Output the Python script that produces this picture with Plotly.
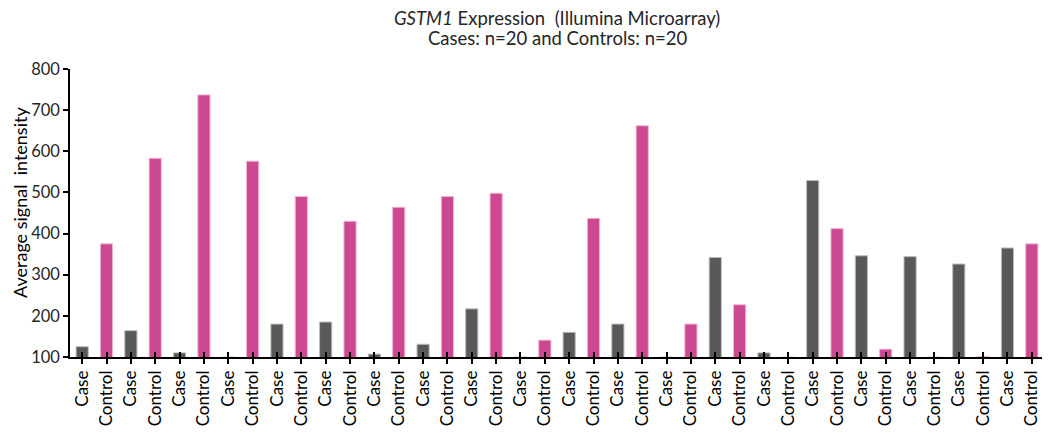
import plotly.graph_objects as go

categories = ["Case", "Control"] * 20
case_values = [125, 164, 110, 100, 180, 185, 107, 131, 217, 100,
               160, 180, 100, 342, 110, 529, 346, 344, 326, 365]
control_values = [375, 583, 737, 576, 490, 430, 464, 490, 498, 141,
                  437, 662, 180, 227, 100, 412, 119, 100, 101, 375]
y_ticks = [100, 200, 300, 400, 500, 600, 700, 800]
title_line1 = "<i>GSTM1</i> Expression&nbsp; (Illumina Microarray)"
title_line2 = "Cases: n=20 and Controls: n=20"
y_title = "Average signal&nbsp; intensity"

values = []
for c, k in zip(case_values, control_values):
    values += [c, k]

CASE_COLOR = "#595959"
CONTROL_COLOR = "#CC4891"
colors = [CASE_COLOR if c == "Case" else CONTROL_COLOR for c in categories]
edge = ["#BDBDBD" if c == "Case" else "#F0B4D2" for c in categories]
xpos = list(range(len(categories)))

FONT = "Lato, sans-serif"

fig = go.Figure()
fig.add_trace(go.Bar(
    x=xpos, y=values,
    marker=dict(color=colors, line=dict(color=edge, width=1)),
    width=0.5, showlegend=False,
))
# invisible trace to activate the overlaid axis used for crossing ticks
fig.add_trace(go.Scatter(x=[0], y=[100], xaxis="x2", mode="markers",
                         marker=dict(opacity=0), showlegend=False, hoverinfo="skip"))

tickvals = xpos + [len(xpos) - 0.5]
ticktext = categories + [""]

fig.update_layout(
    width=1042, height=428,
    margin=dict(l=62, r=6, t=61, b=79),
    plot_bgcolor="white", paper_bgcolor="white",
    font=dict(family=FONT, size=15, color="#262626"),
    annotations=[
        dict(text=title_line1, x=0.5, xref="paper", y=1.1771, yref="paper",
             xanchor="center", yanchor="middle", showarrow=False,
             font=dict(family=FONT, size=18.5, color="#262626")),
        dict(text=title_line2, x=0.5, xref="paper", y=1.1076, yref="paper",
             xanchor="center", yanchor="middle", showarrow=False,
             font=dict(family=FONT, size=18.5, color="#262626")),
        dict(text=y_title, x=-0.0513, xref="paper", y=0.535, yref="paper",
             xanchor="center", yanchor="middle", textangle=-90, showarrow=False,
             font=dict(family=FONT, size=18, color="black")),
    ],
    xaxis=dict(
        range=[-0.5, 39.5], tickmode="array", tickvals=tickvals, ticktext=ticktext,
        tickangle=-90, ticks="outside", ticklen=5, tickwidth=1.5, tickcolor="black",
        showline=True, linecolor="black", linewidth=1.5, showgrid=False,
        zeroline=False, tickfont=dict(size=17, family=FONT, color="black"),
    ),
    xaxis2=dict(
        overlaying="x", matches="x", range=[-0.5, 39.5], tickmode="array",
        tickvals=tickvals, ticks="inside", ticklen=5, tickwidth=1.5, tickcolor="black",
        showticklabels=False, showline=False, showgrid=False, zeroline=False,
        side="bottom", anchor="y",
    ),
    yaxis=dict(
        range=[100, 800], tickmode="array", tickvals=y_ticks,
        ticks="outside", ticklen=5, tickwidth=1.5, tickcolor="black",
        showline=True, linecolor="black", linewidth=1.5, showgrid=False,
        zeroline=False, tickfont=dict(size=16.5, family=FONT, color="#262626"),
    ),
    bargap=0.5,
)

fig.write_html("out.html")
